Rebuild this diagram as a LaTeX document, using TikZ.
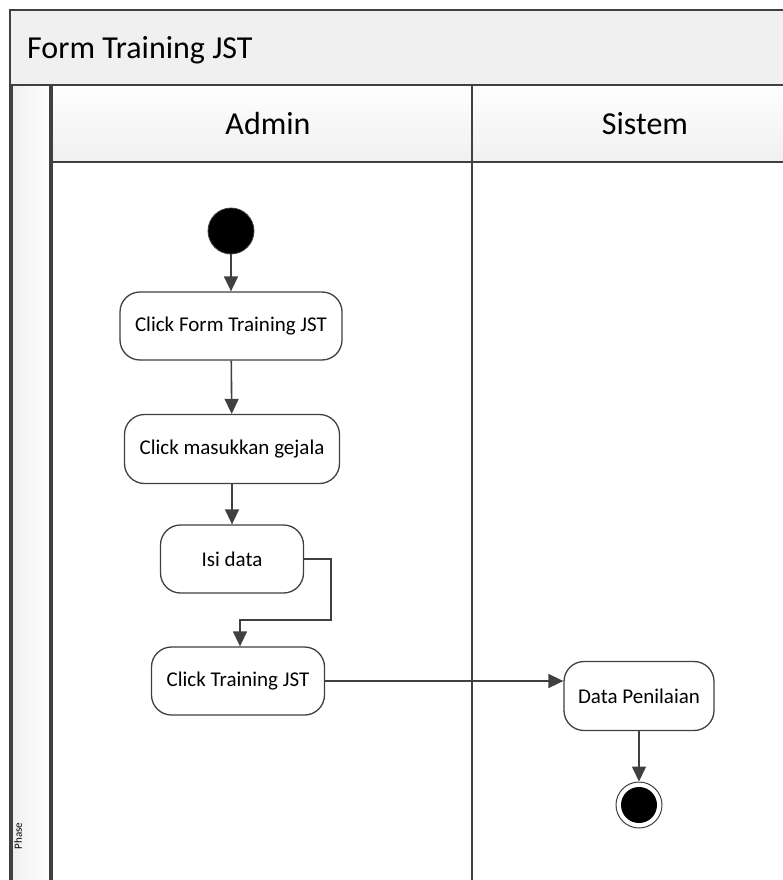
\documentclass[tikz,border=0pt]{standalone}
\usepackage{fontspec}
\setmainfont{Carlito}
\usetikzlibrary{arrows.meta}
\definecolor{ln}{HTML}{404040}
\definecolor{hdr}{HTML}{F0F0F0}
\tikzset{
  act/.style={draw=ln, line width=1.3pt, rounded corners=20pt, fill=white, align=center, font=\fontsize{21}{25}\selectfont, inner sep=0pt},
  flow/.style={draw=ln, line width=1.6pt, -{Triangle[length=15pt,width=14pt]}},
}
\begin{document}
\begin{tikzpicture}[x=1pt,y=-1pt]
\useasboundingbox (0,0) rectangle (783,880);
% outer frame
\fill[white] (0,0) rectangle (783,880);
\path[top color=hdr, bottom color=hdr!85!white, draw=ln, line width=1.2pt] (10,10) rectangle (800,900);
\node[anchor=west, font=\fontsize{32}{36}\selectfont, inner sep=0pt] (title) at (27,50) {Form Training JST};
% left strip
\path[left color=hdr, right color=white!97!hdr, draw=ln, line width=1.2pt] (12,85) rectangle (50,900);
\node[rotate=90, font=\fontsize{11}{12}\selectfont, inner sep=0pt] (phase) at (18,836) {Phase};
% lane headers
\path[top color=white!95!hdr, bottom color=hdr, draw=ln, line width=1.2pt] (52,85) rectangle (472,162);
\path[top color=white!95!hdr, bottom color=hdr, draw=ln, line width=1.2pt] (472,85) rectangle (800,162);
\fill[white] (52,163) rectangle (800,900);
\draw[ln, line width=1.2pt] (52,162) -- (800,162);
\draw[ln, line width=1.2pt] (472,162) -- (472,900);
\draw[ln, line width=1.2pt] (52,162) -- (52,900);
\node[font=\fontsize{32}{36}\selectfont] (admin) at (268,124) {Admin};
\node[font=\fontsize{32}{36}\selectfont] (sistem) at (645,124) {Sistem};
% nodes
\node[circle, fill=black, draw=ln, line width=0.8pt, minimum size=46pt, inner sep=0pt] (start) at (231,231) {};
\node[act, minimum width=222pt, minimum height=68pt] (a1) at (231,326) {Click Form Training JST};
\node[act, minimum width=215pt, minimum height=69pt] (a2) at (232,449) {Click masukkan gejala};
\node[act, minimum width=143pt, minimum height=68pt] (a3) at (232,559) {Isi data};
\node[act, minimum width=173pt, minimum height=68pt] (a4) at (238,681) {Click Training JST};
\node[act, minimum width=150pt, minimum height=69pt] (b1) at (639,696) {Data Penilaian};
\node[circle, draw=ln, fill=white, line width=1pt, minimum size=46pt, inner sep=0pt] (end) at (639,805) {};
\node[circle, fill=black, minimum size=36pt, inner sep=0pt] (endin) at (639,805) {};
% flows
\draw[flow] (start) -- (a1);
\draw[flow] (a1) -- (a2);
\draw[flow] (a2.south) -- (a3.north);
\coordinate (c1) at (331,559);
\coordinate (c2) at (331,620);
\coordinate (c3) at (240,620);
\draw[flow] (a3.east) -- (c1) -- (c2) -- (c3) -- (a4.north -| c3);
\draw[flow] (a4.east) -- (b1.west |- a4.east);
\draw[flow] (b1) -- (end);
\end{tikzpicture}
\end{document}
